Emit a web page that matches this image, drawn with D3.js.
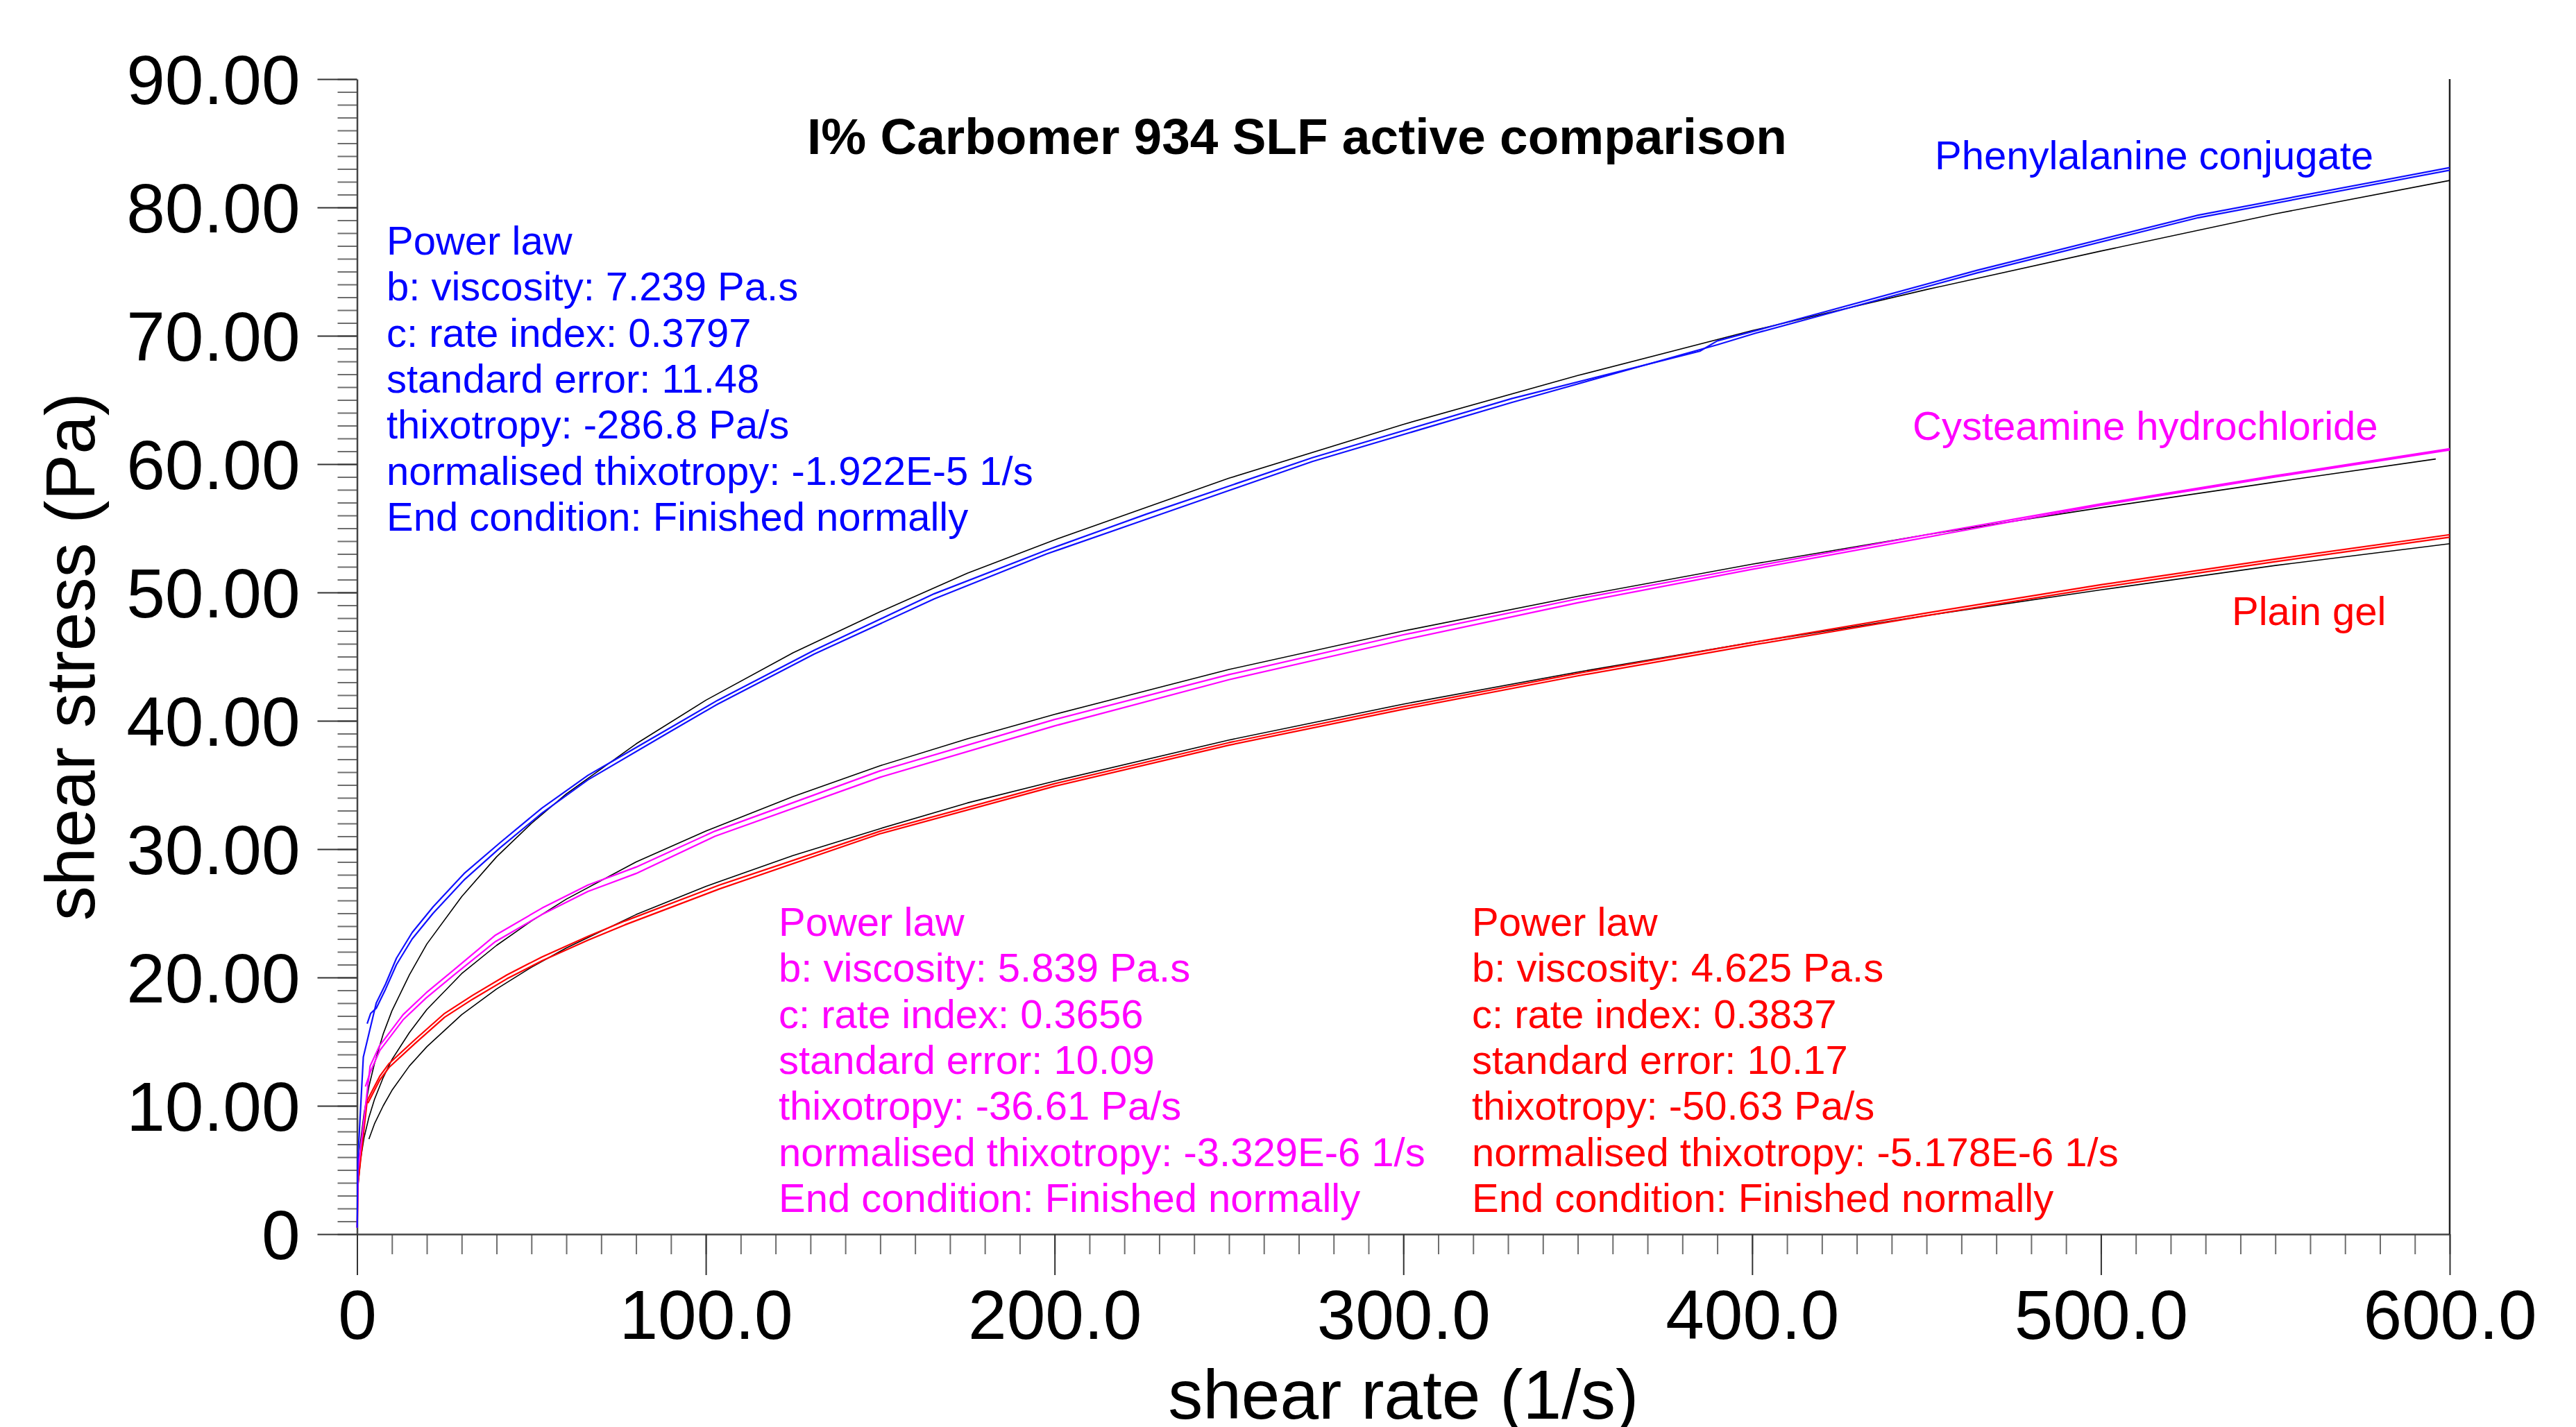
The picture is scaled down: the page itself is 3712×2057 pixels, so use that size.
<!DOCTYPE html>
<html>
<head>
<meta charset="utf-8">
<script src="https://cdn.jsdelivr.net/npm/d3@7"></script>
<style>
  body { margin: 0; background: #fff; }
  text { font-family: "Liberation Sans", Arial, Helvetica, sans-serif; }
</style>
</head>
<body>
<svg id="chart" width="3712" height="2057"></svg>
<script>
// ---- data: [shear rate (1/s), shear stress (Pa)] ----
var phenylUp = [[0.05,0.5],[0.2,5.6],[1.8,13.8],[5.5,18.0],[8.2,19.5],[11.3,21.5],[15.8,23.5],[21.8,25.5],
    [30.7,28.1],[41,30.5],[53,33.2],[66.2,35.75],[72.9,36.8],[88.8,39.3],[103.4,41.6],[131.1,45.5],
    [160,49.2],[165.5,49.9],[197.7,53.3],[226.3,56.1],[273.9,60.5],[331,65.1],[385,68.8],[390,69.6],
    [401,70.4],[464.5,75.1],[527.9,79.4],[600,83.1]];
var phenylDown = [[2.9,16.4],[3.9,17.2],[5.5,17.6],[8.2,19.1],[11.3,21.0],[15.8,23.0],[21.8,25.0],
    [30.7,27.6],[41,30.1],[53,32.8],[66.2,35.4],[88.8,39.0],[103.4,41.3],[131.1,45.2],[165.5,49.5],
    [197.7,53.0],[226.3,55.7],[273.9,60.2],[331,64.8],[390,69.3],[401,70.2],[464.5,74.9],[527.9,79.2],[600,82.9]];
var phenylFit = [[0.05,2.3],[0.3,4.6],[1,7.2],[2,9.4],[3.4,11.5],[5,13.3],[7.5,15.6],[10,17.4],[15,20.2],
    [20,22.6],[30,26.3],[40,29.4],[50,32.0],[60,34.3],[80,38.2],[100,41.6],[125,45.3],[150,48.5],
    [175,51.5],[200,54.1],[250,58.9],[300,63.1],[350,66.9],[400,70.4],[450,73.6],[500,76.6],[550,79.5],[600,82.1]];

var cysteUp = [[0.05,0.5],[0.3,5.0],[3.75,13.1],[6.5,14.7],[13.2,17.1],[19.8,18.8],[27.8,20.6],[39.7,23.3],
    [53,25.4],[66.2,27.2],[80,28.6],[102.6,31.4],[150,36.1],[200,40.1],[250,43.6],[300,46.7],[350,49.5],
    [400,52.0],[454,54.7],[500,56.9],[550,59.1],[600,61.2]];
var cysteDown = [[2.4,11.5],[3.75,12.6],[6.5,14.3],[13.2,16.7],[19.8,18.4],[27.8,20.2],[39.7,22.8],[53,24.9],
    [66.2,26.7],[80,28.1],[102.6,31.0],[150,35.6],[200,39.6],[250,43.2],[300,46.3],[350,49.2],[400,51.8],
    [454,54.5],[500,56.8],[550,59.0],[600,61.1]];
var cysteFit = [[0.3,3.8],[1,5.8],[2,7.5],[3.4,9.1],[5,10.5],[7.5,12.2],[10,13.6],[15,15.7],[20,17.5],
    [30,20.3],[40,22.5],[50,24.4],[60,26.1],[80,29.0],[100,31.4],[125,34.1],[150,36.5],[175,38.6],
    [200,40.5],[250,44.0],[300,47.0],[350,49.7],[400,52.2],[450,54.5],[500,56.6],[550,58.6],[596,60.4]];

var plainUp = [[0.05,0.5],[0.3,4.0],[2.9,10.4],[6.5,12.3],[9.2,13.3],[16.8,15.2],[25.1,17.2],[33.1,18.6],
    [43,20.2],[53,21.6],[66.2,23.2],[76.8,24.4],[103.9,27.2],[150,31.4],[200,35.1],[250,38.3],[300,41.1],
    [350,43.7],[400,46.1],[450,48.4],[500,50.6],[550,52.6],[600,54.5]];
var plainDown = [[3.1,10.2],[6.5,12.0],[9.2,13.0],[16.8,14.9],[25.1,16.9],[33.1,18.3],[43,19.9],[53,21.3],
    [66.2,22.9],[76.8,24.1],[103.9,26.9],[150,31.2],[200,34.9],[250,38.1],[300,40.9],[350,43.5],
    [400,45.9],[450,48.2],[500,50.4],[550,52.4],[600,54.3]];
var plainFit = [[3.4,7.4],[5,8.6],[7.5,10.0],[10,11.2],[15,13.1],[20,14.6],[30,17.1],[40,19.1],[50,20.8],
    [60,22.3],[80,24.9],[100,27.1],[125,29.5],[150,31.6],[175,33.6],[200,35.3],[250,38.5],[300,41.3],
    [350,43.8],[400,46.1],[450,48.2],[500,50.2],[550,52.1],[600,53.8]];

var xMajor = [0, 100, 200, 300, 400, 500, 600];
var xLabels = ["0", "100.0", "200.0", "300.0", "400.0", "500.0", "600.0"];
var yMajor = [0, 10, 20, 30, 40, 50, 60, 70, 80, 90];
var yLabels = ["0", "10.00", "20.00", "30.00", "40.00", "50.00", "60.00", "70.00", "80.00", "90.00"];

var seriesNames = ["Phenylalanine conjugate", "Cysteamine hydrochloride", "Plain gel"];
var phenylNotes = ["Power law", "b: viscosity: 7.239 Pa.s", "c: rate index: 0.3797", "standard error: 11.48",
    "thixotropy: -286.8 Pa/s", "normalised thixotropy: -1.922E-5 1/s", "End condition: Finished normally"];
var cysteNotes = ["Power law", "b: viscosity: 5.839 Pa.s", "c: rate index: 0.3656", "standard error: 10.09",
    "thixotropy: -36.61 Pa/s", "normalised thixotropy: -3.329E-6 1/s", "End condition: Finished normally"];
var plainNotes = ["Power law", "b: viscosity: 4.625 Pa.s", "c: rate index: 0.3837", "standard error: 10.17",
    "thixotropy: -50.63 Pa/s", "normalised thixotropy: -5.178E-6 1/s", "End condition: Finished normally"];

(function () {
    'use strict';

    var svg = d3.select('#chart');
    var margin = { top: 114, right: 182, bottom: 278, left: 514.5 },
        width = 3712 - margin.left - margin.right,
        height = 2057 - margin.top - margin.bottom;

    svg.append('rect').attr('width', 3712).attr('height', 2057).attr('fill', '#fff');

    var g = svg.append('g').attr('transform', 'translate(' + margin.left + ',' + margin.top + ')');

    var x = d3.scaleLinear().domain([0, 600]).range([0, width]);
    var y = d3.scaleLinear().domain([0, 90]).range([height, 0]);

    //minor ticks first so the major ones sit on top
    g.append('g')
        .attr('class', 'minor')
        .call(d3.axisLeft(y).tickValues(d3.range(0, 91, 1)).tickSize(28).tickSizeOuter(0).tickFormat(''))
        .call(function (a) { a.select('.domain').remove(); });
    g.append('g')
        .attr('class', 'minor')
        .attr('transform', 'translate(0,' + height + ')')
        .call(d3.axisBottom(x).tickValues(d3.range(0, 601, 10)).tickSize(29).tickSizeOuter(0).tickFormat(''))
        .call(function (a) { a.select('.domain').remove(); });
    g.selectAll('.minor line').attr('stroke', '#6e6e6e').attr('stroke-width', 2);

    var yAxis = g.append('g')
        .call(d3.axisLeft(y).tickValues(yMajor).tickSize(57).tickSizeOuter(0).tickPadding(25)
            .tickFormat(function (d, i) { return yLabels[i]; }));
    var xAxis = g.append('g')
        .attr('transform', 'translate(0,' + height + ')')
        .call(d3.axisBottom(x).tickValues(xMajor).tickSize(59).tickSizeOuter(0).tickPadding(21)
            .tickFormat(function (d, i) { return xLabels[i]; }));

    [yAxis, xAxis].forEach(function (a) {
        a.select('.domain').attr('stroke', '#444').attr('stroke-width', 2.5);
        a.selectAll('.tick line').attr('stroke', '#333').attr('stroke-width', 2);
        a.selectAll('.tick text')
            .attr('fill', '#000')
            .style('font-size', '100px')
            .style('font-family', '"Liberation Sans", Arial, sans-serif');
    });
    yAxis.selectAll('.tick text').attr('dy', '0.35em');

    //right frame line
    g.append('line')
        .attr('x1', x(600)).attr('x2', x(600))
        .attr('y1', y(90)).attr('y2', y(0))
        .attr('stroke', '#222').attr('stroke-width', 2.5);

    var line = d3.line()
        .x(function (d) { return x(d[0]); })
        .y(function (d) { return y(d[1]); });

    var curves = [
        { data: phenylFit, color: '#000', w: 1.6 },
        { data: cysteFit, color: '#000', w: 1.6 },
        { data: plainFit, color: '#000', w: 1.6 },
        { data: plainDown, color: '#ff0000', w: 2.2 },
        { data: plainUp, color: '#ff0000', w: 2.2 },
        { data: cysteDown, color: '#ff00ff', w: 2.2 },
        { data: cysteUp, color: '#ff00ff', w: 2.2 },
        { data: phenylDown, color: '#1010ff', w: 2.2 },
        { data: phenylUp, color: '#1010ff', w: 2.2 }
    ];

    g.selectAll('.curve')
        .data(curves)
        .enter()
        .append('path')
        .attr('class', 'curve')
        .attr('fill', 'none')
        .attr('stroke', function (d) { return d.color; })
        .attr('stroke-width', function (d) { return d.w; })
        .attr('stroke-linejoin', 'round')
        .attr('d', function (d) { return line(d.data); });

    //axis titles
    svg.append('text')
        .attr('x', margin.left + width / 2)
        .attr('y', 2045)
        .attr('text-anchor', 'middle')
        .style('font-size', '100px')
        .text('shear rate (1/s)');

    svg.append('text')
        .attr('transform', 'translate(136,' + (margin.top + height / 2) + ') rotate(-90)')
        .attr('text-anchor', 'middle')
        .style('font-size', '100px')
        .text('shear stress (Pa)');

    //chart title
    svg.append('text')
        .attr('x', 1163)
        .attr('y', 222)
        .style('font-size', '73px')
        .style('font-weight', 'bold')
        .text('I% Carbomer 934 SLF active comparison');

    //series labels
    var labelPos = [[2788, 244, '#0000ff'], [2756, 634, '#ff00ff'], [3216, 901, '#ff0000']];
    seriesNames.forEach(function (name, i) {
        svg.append('text')
            .attr('x', labelPos[i][0])
            .attr('y', labelPos[i][1])
            .attr('fill', labelPos[i][2])
            .style('font-size', '58px')
            .text(name);
    });

    //fit result blocks
    var blocks = [
        { lines: phenylNotes, x: 557, y: 367, color: '#0000ff' },
        { lines: cysteNotes, x: 1122, y: 1349, color: '#ff00ff' },
        { lines: plainNotes, x: 2121, y: 1349, color: '#ff0000' }
    ];
    blocks.forEach(function (b) {
        svg.append('g')
            .selectAll('text')
            .data(b.lines)
            .enter()
            .append('text')
            .attr('x', b.x)
            .attr('y', function (d, i) { return b.y + i * 66.3; })
            .attr('fill', b.color)
            .style('font-size', '58px')
            .text(function (d) { return d; });
    });
})();
</script>
</body>
</html>
